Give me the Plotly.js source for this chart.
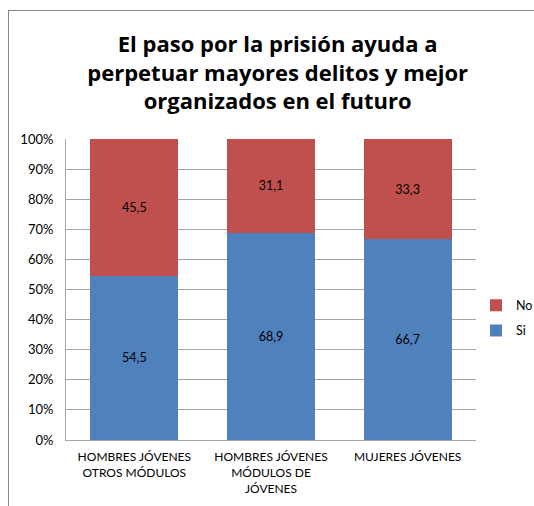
<!DOCTYPE html>
<html>
<head>
<meta charset="utf-8">
<script src="https://cdn.plot.ly/plotly-3.0.1.min.js"></script>
<style>
html,body{margin:0;padding:0;background:#fff;}
#wrap{position:relative;width:534px;height:506px;}
#chart{width:534px;height:506px;}
#frame{position:absolute;left:8px;top:10px;width:540px;height:510px;border-left:1px solid #868686;border-top:1px solid #868686;pointer-events:none;}
</style>
</head>
<body>
<div id="wrap"><div id="chart"></div><div id="frame"></div></div>
<script>
const categories = ["HOMBRES JÓVENES<br>OTROS MÓDULOS", "HOMBRES JÓVENES<br>MÓDULOS DE<br>JÓVENES", "MUJERES JÓVENES"];
const siValues = [54.5, 68.9, 66.7];
const noValues = [45.5, 31.1, 33.3];
const seriesNames = ["Si", "No"];
const titleText = "<b>El paso por la prisión ayuda a<br>perpetuar mayores delitos y mejor<br>organizados en el futuro</b>";

const fontFam = "Lato, 'Open Sans', sans-serif";
const common = {
  type: 'bar',
  x: categories,
  texttemplate: '%{y:.1f}',
  textposition: 'inside',
  insidetextanchor: 'middle',
  textangle: 0,
  constraintext: 'none',
  textfont: {color: '#000', size: 12.5, family: fontFam},
  hoverinfo: 'skip'
};
const data = [
  Object.assign({}, common, {name: seriesNames[0], legendgroup: 'g1', legendrank: 2, y: siValues, marker: {color: '#4F81BD'}}),
  Object.assign({}, common, {name: seriesNames[1], legendgroup: 'g2', legendrank: 1, y: noValues, marker: {color: '#C0504D'}})
];
const layout = {
  width: 534, height: 506,
  margin: {l: 66, r: 58, t: 139, b: 66, autoexpand: false},
  paper_bgcolor: '#fff', plot_bgcolor: '#fff',
  separators: ',.',
  barmode: 'stack',
  bargap: 0.356,
  font: {family: fontFam, size: 12, color: '#000'},
  title: {text: titleText, x: 0.52, xanchor: 'center', y: 1 - 52/506, yanchor: 'middle',
          font: {family: "'Open Sans', sans-serif", size: 22, color: '#000'}},
  xaxis: {showline: true, linecolor: '#a6a6a6', linewidth: 1, ticks: '', tickangle: 0,
          ticklabelstandoff: 6,
          tickfont: {size: 12, family: fontFam}, showgrid: false, fixedrange: true},
  yaxis: {range: [0, 100], dtick: 10, ticksuffix: '%', showgrid: true, gridcolor: '#a6a6a6',
          showline: true, linecolor: '#a6a6a6', linewidth: 1, zeroline: false, ticks: '',
          ticklabelstandoff: 9, tickfont: {size: 13, family: fontFam}, fixedrange: true},
  legend: {xref: 'container', yref: 'container', x: 476/534, xanchor: 'left', y: 1 - 318/506, yanchor: 'middle',
           font: {size: 12.5, family: fontFam}, itemwidth: 30, tracegroupgap: 6,
           traceorder: 'grouped'},
  showlegend: true
};
Plotly.newPlot('chart', data, layout, {displayModeBar: false, staticPlot: true});
</script>
</body>
</html>
